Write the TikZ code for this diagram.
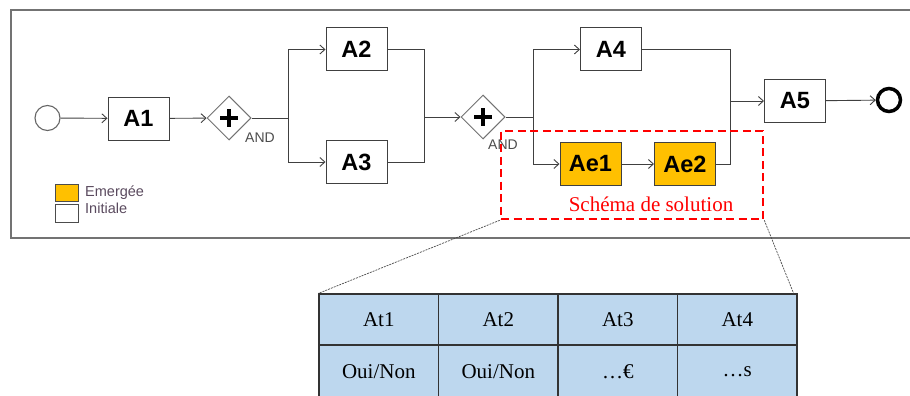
\documentclass[tikz,border=0pt]{standalone}
\usepackage{fontspec}
\setmainfont{Liberation Serif}
\setsansfont{Liberation Sans}
\usetikzlibrary{arrows.meta,shapes.geometric,calc}
\definecolor{emgcol}{HTML}{FFC000}
\definecolor{tabcol}{HTML}{BDD7EE}
\definecolor{lncol}{HTML}{404040}
\definecolor{legcol}{HTML}{5A4A5E}
\begin{document}
\begin{tikzpicture}[x=1pt,y=-1pt,
  act/.style={draw=lncol, line width=1pt, minimum width=61pt, minimum height=43pt, inner sep=0pt,
    font=\sffamily\bfseries\fontsize{23.5}{24}\selectfont, fill=white},
  emg/.style={act, fill=emgcol},
  gate/.style={diamond, draw=black!55, line width=1pt, minimum width=44pt, minimum height=44pt, inner sep=0pt, fill=white},
  flow/.style={draw=lncol, line width=0.9pt, -{Straight Barb[length=5pt,width=9pt,line width=0.9pt]}},
  plain/.style={draw=lncol, line width=0.9pt},
  andlbl/.style={font=\sffamily\fontsize{14}{14}\selectfont, text=black!70, inner sep=0pt},
  legtxt/.style={font=\sffamily\fontsize{14.5}{14.5}\selectfont, text=legcol, inner sep=0pt, anchor=west},
  cell/.style={draw=black!80, line width=1.2pt, fill=tabcol, minimum width=119.5pt, minimum height=51pt, inner sep=0pt,
    font=\fontsize{21}{21}\selectfont},
  zoomln/.style={draw=black!70, line width=0.7pt, dash pattern=on 2pt off 1pt}
]
\useasboundingbox (0,0) rectangle (910,396);
% frame
\draw[black!55, line width=1.6pt] (11,10) rectangle (930,238);

% events
\node[circle, draw=black!60, line width=1.1pt, minimum size=25pt, inner sep=0pt] (start) at (47.5,118) {};
\node[circle, draw=black, line width=3.5pt, minimum size=23pt, inner sep=0pt] (end) at (889,100) {};

% activities
\node[act] (A1) at (138.5,118.5) {A1};
\node[act] (A2) at (356.5,49.5) {A2};
\node[act] (A3) at (356.5,162) {A3};
\node[act] (A4) at (611,49.5) {A4};
\node[emg] (Ae1) at (590.5,164) {Ae1};
\node[emg] (Ae2) at (685,164) {Ae2};
\node[act] (A5) at (795,101) {A5};

% gateways
\node[gate] (G1) at (229,118) {};
\node[gate] (G2) at (483,117) {};
\foreach \g in {G1,G2}{
  \draw[black, line width=4.5pt] ($(\g)+(-9,0)$) -- ($(\g)+(9,0)$);
  \draw[black, line width=4.5pt] ($(\g)+(0,-9)$) -- ($(\g)+(0,9)$);
}
\node[andlbl] (and1) at (260,138) {AND};
\node[andlbl] (and2) at (503,145) {AND};

% junction points
\coordinate (s1) at (288,118);
\coordinate (j1) at (424,117);
\coordinate (s2) at (533,117);
\coordinate (j2) at (730,101);

% connectors
\draw[flow] (start) -- (A1);
\draw[flow] (A1) -- (G1);
\draw[plain] (G1.east) -- (s1);
\draw[flow] (s1) |- (A2);
\draw[flow] (s1) |- (A3);
\draw[plain] (A2.east) -| (j1);
\draw[plain] (A3.east) -| (j1);
\draw[flow] (j1) -- (G2.west);
\draw[plain] (G2.east) -- (s2);
\draw[flow] (s2) |- (A4);
\draw[flow] (s2) |- (Ae1);
\draw[flow] (Ae1) -- (Ae2);
\draw[plain] (A4.east) -| (j2);
\draw[plain] (Ae2.east) -| (j2);
\draw[flow] (j2) -- (A5);
\draw[flow] (A5) -- (end);

% legend
\node[draw=black!70, line width=1pt, fill=emgcol, minimum width=23pt, minimum height=17pt, inner sep=0pt] (legE) at (66.5,192.5) {};
\node[draw=black!70, line width=1pt, fill=white, minimum width=23pt, minimum height=18pt, inner sep=0pt] (legI) at (66.5,213) {};
\node[legtxt] (tE) at (85,193) {Emergée};
\node[legtxt] (tI) at (85,208.5) {Initiale};

% solution box
\node[draw=red, line width=2.6pt, dash pattern=on 8pt off 4.5pt, minimum width=262pt, minimum height=88pt, inner sep=0pt] (sol) at (632,175) {};
\node[text=red, font=\fontsize{21}{21}\selectfont, inner sep=0pt] (soltxt) at (651,204) {Schéma de solution};

% table
\node[cell] (c11) at (378.75,319.5) {At1};
\node[cell] (c12) at (498.25,319.5) {At2};
\node[cell] (c13) at (617.75,319.5) {At3};
\node[cell] (c14) at (737.25,319.5) {At4};
\node[cell, minimum height=54pt] (c21) at (378.75,372) {Oui/Non};
\node[cell, minimum height=54pt] (c22) at (498.25,372) {Oui/Non};
\node[cell, minimum height=54pt] (c23) at (617.75,372) {…€};
\node[cell, minimum height=54pt] (c24) at (737.25,372) {…s};

% zoom lines
\draw[zoomln] (sol.south west) -- (c11.north west);
\draw[zoomln] (sol.south east) -- ($(c14.north east)+(-4,0)$);
\end{tikzpicture}
\end{document}
